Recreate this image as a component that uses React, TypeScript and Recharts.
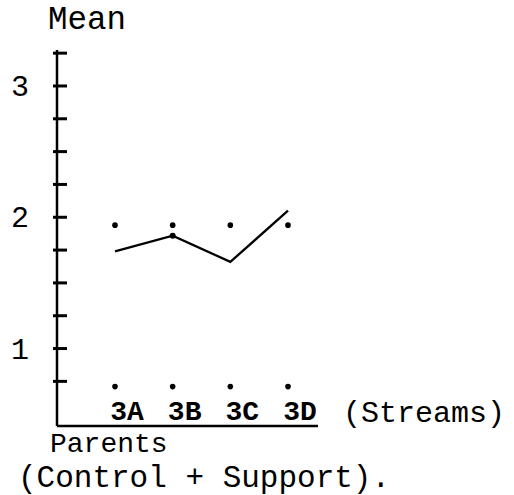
import { LineChart, Line, XAxis, YAxis } from 'recharts';

const streams = ['3A', '3B', '3C', '3D'];
const parentsMean = [1.74, 1.86, 1.66, 2.05];
const upperDots = [1.94, 1.94, 1.94, 1.94];
const lowerDots = [0.71, 0.71, 0.71, 0.71];
const yTicks = [0.75, 1, 1.25, 1.5, 1.75, 2, 2.25, 2.5, 2.75, 3, 3.25];
const yLabelled = [1, 2, 3];

const data = streams.map((s, i) => ({
  stream: s,
  parents: parentsMean[i],
  upper: upperDots[i],
  lower: lowerDots[i],
}));

const font = "'Liberation Mono', 'Courier New', monospace";

const YTick = (props: any) => {
  const { x, y, payload } = props;
  const v = payload.value;
  return (
    <g>
      <line x1={x - 4} x2={x + 10} y1={y} y2={y} stroke="#000" strokeWidth={3} />
      {yLabelled.includes(v) && (
        <text x={x - 37} y={y + 10} textAnchor="middle" fontSize={30} fontFamily={font} fill="#000">
          {v}
        </text>
      )}
    </g>
  );
};

const XTick = (props: any) => {
  const { x, y, payload } = props;
  return (
    <text x={x + 12} y={y - 6} textAnchor="middle" fontSize={28} fontWeight="bold" fontFamily={font} fill="#000">
      {payload.value}
    </text>
  );
};

// the hand-drawn line has a small blob at the 3B vertex
const ParentDot = (props: any) => {
  const { cx, cy, index } = props;
  if (index !== 1) return <g key={index} />;
  return <circle key={index} cx={cx} cy={cy} r={3} fill="#000" />;
};

export default function App() {
  return (
    <div style={{ position: 'absolute', left: 0, top: 0, width: 514, height: 495, background: '#fff' }}>
      <LineChart width={514} height={495} data={data} margin={{ top: 50, right: 196, bottom: 49, left: 0 }}>
        <XAxis
          dataKey="stream"
          height={20}
          padding={{ left: 58, right: 30 }}
          axisLine={{ stroke: '#000', strokeWidth: 2.5 }}
          tickLine={false}
          tickSize={0}
          tickMargin={0}
          tick={<XTick />}
          interval={0}
        />
        <YAxis
          type="number"
          width={57}
          domain={[0.41, 3.274]}
          ticks={yTicks}
          interval={0}
          axisLine={{ stroke: '#000', strokeWidth: 2.5 }}
          tickLine={false}
          tickSize={0}
          tickMargin={0}
          tick={<YTick />}
        />
        <Line dataKey="parents" stroke="#000" strokeWidth={2.3} dot={<ParentDot />} isAnimationActive={false} />
        <Line dataKey="upper" stroke="none" dot={{ r: 2.8, fill: '#000', stroke: 'none' }} isAnimationActive={false} />
        <Line dataKey="lower" stroke="none" dot={{ r: 2.8, fill: '#000', stroke: 'none' }} isAnimationActive={false} />
      </LineChart>
      <svg width={514} height={495} style={{ position: 'absolute', left: 0, top: 0, pointerEvents: 'none' }}>
        <g fontFamily={font} fill="#000">
          <text x={48} y={29} fontSize={32.5}>Mean</text>
          <text x={343} y={422} fontSize={30}>(Streams)</text>
          <text x={50} y={452} fontSize={28}>Parents</text>
          <text x={18} y={486.5} fontSize={31}>(Control + Support).</text>
        </g>
      </svg>
    </div>
  );
}
